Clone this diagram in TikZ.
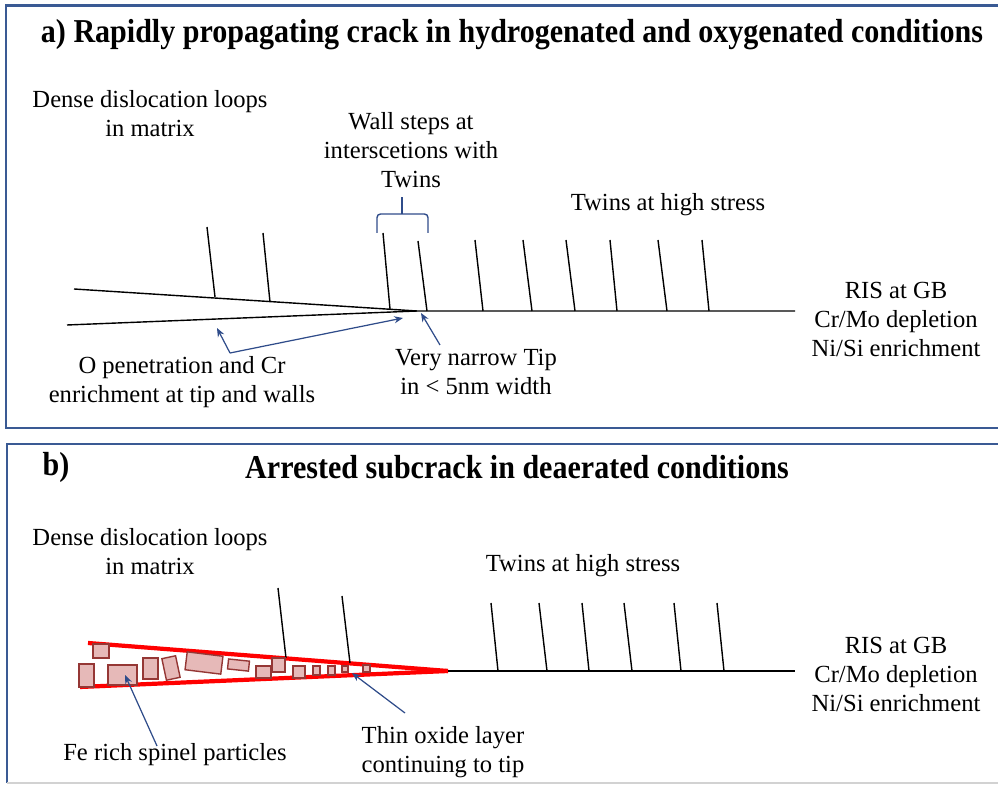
\documentclass[tikz,border=0pt]{standalone}
\usepackage{fontspec}
\setmainfont{Liberation Serif}
\usetikzlibrary{arrows.meta}
\definecolor{framebl}{HTML}{3A5A94}
\definecolor{callbl}{HTML}{2F4C8A}
\definecolor{oxfill}{HTML}{E6B9B8}
\definecolor{oxedge}{HTML}{953735}
\tikzset{
    txt/.style={font=\fontsize{14}{16.5}\selectfont, align=center, inner sep=0pt},
    twin/.style={line width=0.8pt},
    pointer/.style={callbl, line width=0.7pt, -{Stealth[length=5pt,width=4pt]}},
    oxide/.style={red, line width=2.4pt},
    particle/.style={draw=oxedge, fill=oxfill, line width=0.8pt},
    panelframe/.style={framebl, line width=1.7pt},
}
\newcommand{\paneltitle}[1]{\scalebox{0.9}[1]{\fontsize{19}{22}\selectfont\bfseries #1}}
\begin{document}
\begin{tikzpicture}[x=0.02cm,y=-0.02cm]
    \useasboundingbox (0,0) rectangle (998,786);
    % frames of the two panels
    \draw[panelframe] (998,6) -- (6,6) -- (6,428) -- (998,428);
    \draw[panelframe] (998,444) -- (7,444) -- (7,783);
    \draw[gray!35, line width=0.8pt] (7,783) -- (998,783);

    % ---- a) open crack ----
    \node (titlea) at (512,35) {\paneltitle{a) Rapidly propagating crack in hydrogenated and oxygenated conditions}};
    \coordinate (tipa) at (417,311);
    \draw[twin] (74,289) -- (tipa) -- (795,311);
    \draw[twin] (67,325) -- (tipa);
    \foreach \xt/\yt/\xb/\yb in {207/227/215/297, 263/233/270/302, 383/233/390/309, 418/241/427/311,
        475/240/483/311, 523/240/532/311, 566/240/575/311, 610/240/617/311, 658/240/667/311, 702/240/709/311}
    {
        \draw[twin] (\xt,\yt) -- (\xb,\yb);
    }
    \node[txt] (loopsa) at (150,114) {Dense dislocation loops\\in matrix};
    \node[txt] (walls) at (411,150) {Wall steps at\\interscetions with\\Twins};
    \node[txt] (stressa) at (668,205) {Twins at high stress};
    \node[txt] (risa) at (896,319) {RIS at GB\\Cr/Mo depletion\\Ni/Si enrichment};
    \node[txt] (pen) at (182,382) {O penetration and Cr\\enrichment at tip and walls};
    \node[txt] (narrow) at (476,372) {Very narrow Tip\\in < 5nm width};
    % brace over the stepped twins
    \draw[callbl, line width=0.8pt, rounded corners=2pt] (377,233) -- (377,214) -- (428,214) -- (428,233);
    \draw[callbl, line width=0.8pt] (402,214) -- (402,197);
    % pointers
    \coordinate (fork) at (230,353);
    \coordinate (wallpt) at (217,328);
    \coordinate (tippt) at (403,318);
    \coordinate (narrowtail) at (440,345);
    \coordinate (narrowpt) at (421,313);
    \draw[pointer] (fork) -- (wallpt);
    \draw[pointer] (fork) -- (tippt);
    \draw[pointer] (narrowtail) -- (narrowpt);

    % ---- b) arrested crack ----
    \node (titleb) at (56,467) {\paneltitle{b)}};
    \node (titlebb) at (517,467) {\paneltitle{Arrested subcrack in deaerated conditions}};
    \coordinate (tipb) at (448,671);
    \draw[oxide] (88,643) -- (tipb);
    \draw[oxide] (80,687) -- (tipb);
    \draw[twin] (tipb) -- (795,671);
    \foreach \xt/\yt/\xb/\yb in {278/588/286/658, 342/596/350/663,
        491/603/498/671, 539/603/547/671, 582/603/589/671, 624/603/632/671, 674/603/681/671, 717/603/724/671}
    {
        \draw[twin] (\xt,\yt) -- (\xb,\yb);
    }
    % spinel particles inside the crack
    \foreach \xa/\ya/\xc/\yc in {93/644/109/658, 79/664/94/687, 108/665/137/685, 143/658/158/679,
        256/666/271/678, 272/658/285/672, 293/666/305/678, 313/666/320/675, 328/666/335/675,
        342/666/348/672, 363/665/370/672}
    {
        \draw[particle] (\xa,\ya) rectangle (\xc,\yc);
    }
    \draw[particle, rotate around={12:(171,668)}] (164,657) rectangle (178,679);
    \draw[particle, rotate around={-7:(204,663)}] (186,654) rectangle (222,672);
    \draw[particle, rotate around={-6:(238,665)}] (228,660) rectangle (249,670);
    \node[txt] (loopsb) at (150,552) {Dense dislocation loops\\in matrix};
    \node[txt] (stressb) at (583,566) {Twins at high stress};
    \node[txt] (risb) at (896,674) {RIS at GB\\Cr/Mo depletion\\Ni/Si enrichment};
    \node[txt] (spinel) at (175,755) {Fe rich spinel particles};
    \node[txt] (oxlayer) at (443,752) {Thin oxide layer\\continuing to tip};
    \coordinate (spineltail) at (157,746);
    \coordinate (spinelpt) at (125,675);
    \coordinate (oxtail) at (405,713);
    \coordinate (oxpt) at (352,673);
    \draw[pointer] (spineltail) -- (spinelpt);
    \draw[pointer] (oxtail) -- (oxpt);
\end{tikzpicture}
\end{document}
